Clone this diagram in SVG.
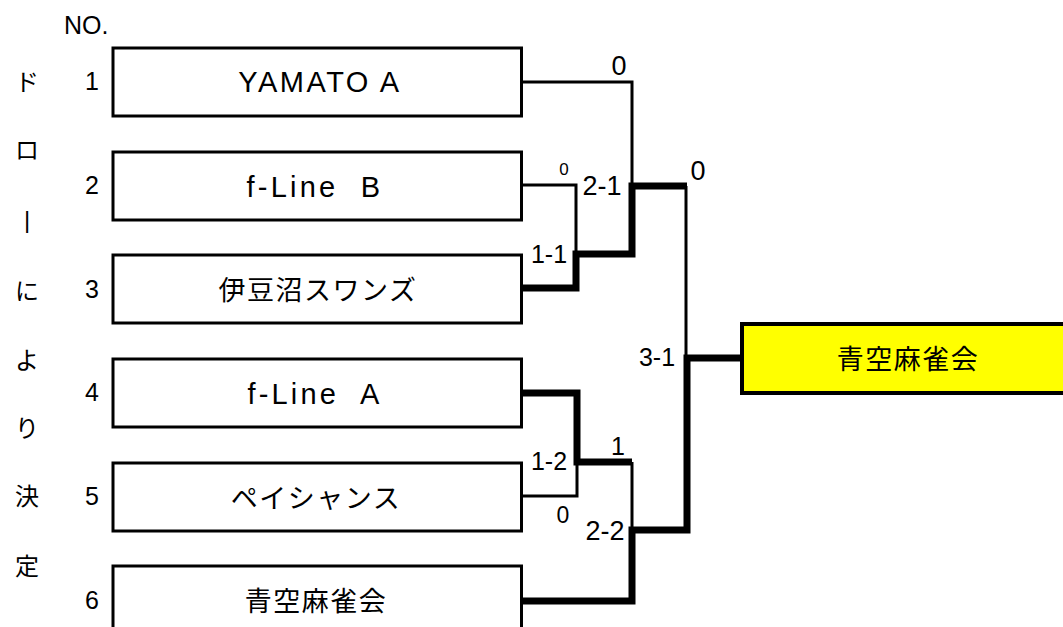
<svg xmlns="http://www.w3.org/2000/svg" width="1063" height="627" viewBox="0 0 1063 627">
<style>
.box{fill:#fff;stroke:#000;stroke-width:3}
.win{fill:#ffff00;stroke:#000;stroke-width:4}
.lat{font-family:"Liberation Sans",Arial,sans-serif;fill:#000}
.jp{font-family:"Noto Sans CJK JP","Liberation Sans",sans-serif;fill:#000}
.name{font-size:29px;letter-spacing:2.5px;text-anchor:middle}
.fl{letter-spacing:3.2px}
.jname{font-size:27px;letter-spacing:1.5px;text-anchor:middle}
.num{font-size:25px;text-anchor:middle}
.side{font-size:24px;text-anchor:middle}
.sc{text-anchor:middle}
.thin{fill:none;stroke:#000;stroke-width:3}
.thick{fill:none;stroke:#000;stroke-width:7;stroke-linejoin:miter}
</style>
<rect width="1063" height="627" fill="#fff"/>
<g id="header">
<text class="lat" x="64" y="34" font-size="25">NO.</text>
</g>
<g id="side-label">
<text class="jp side" x="27" y="91">ド</text>
<text class="jp side" x="27" y="159">ロ</text>
<text class="lat side" x="27" y="228">|</text>
<text class="jp side" x="27" y="300">に</text>
<text class="jp side" x="27" y="369">よ</text>
<text class="jp side" x="27" y="437">り</text>
<text class="jp side" x="27" y="505">決</text>
<text class="jp side" x="27" y="575">定</text>
</g>
<g id="numbers">
<text class="lat num" x="92" y="90">1</text>
<text class="lat num" x="92" y="194">2</text>
<text class="lat num" x="92" y="298">3</text>
<text class="lat num" x="92" y="401">4</text>
<text class="lat num" x="92" y="505">5</text>
<text class="lat num" x="92" y="609">6</text>
</g>
<g id="team1"><rect class="box" x="113" y="48" width="408.5" height="68"/><text class="lat name" x="320" y="92">YAMATO A</text></g>
<g id="team2"><rect class="box" x="113" y="152" width="408.5" height="68"/><text class="lat name fl" x="315" y="197" xml:space="preserve">f-Line  B</text></g>
<g id="team3"><rect class="box" x="113" y="255" width="408.5" height="68"/><text class="jp jname" x="318" y="300">伊豆沼スワンズ</text></g>
<g id="team4"><rect class="box" x="113" y="359" width="408.5" height="68"/><text class="lat name fl" x="315" y="404" xml:space="preserve">f-Line  A</text></g>
<g id="team5"><rect class="box" x="113" y="463" width="408.5" height="68"/><text class="jp jname" x="316" y="508">ペイシャンス</text></g>
<g id="team6"><rect class="box" x="113" y="566" width="408.5" height="70"/><text class="jp jname" x="316" y="611">青空麻雀会</text></g>
<g id="champion"><rect class="win" x="742" y="324" width="330" height="69"/><text class="jp jname" x="908" y="369">青空麻雀会</text></g>
<g id="connectors">
<polyline class="thin" points="522,82 632,82 632,186"/>
<polyline class="thin" points="522,185 576,185 576,254"/>
<polyline class="thin" points="522,496 577,496 577,462"/>
<polyline class="thin" points="632,462 632,530"/>
<polyline class="thin" points="686,186 686,358"/>
<polyline class="thick" points="522,288 576,288 576,254 632,254 632,186 687,186"/>
<polyline class="thick" points="522,393 577,393 577,462 632,462"/>
<polyline class="thick" points="522,601 632,601 632,530 687,530 687,358 742,358"/>
</g>
<g id="scores">
<text class="lat sc" x="619" y="75" font-size="27">0</text>
<text class="lat sc" x="564" y="175" font-size="17">0</text>
<text class="lat sc" x="602" y="195" font-size="27">2-1</text>
<text class="lat sc" x="698" y="180" font-size="27">0</text>
<text class="lat sc" x="549" y="263" font-size="25">1-1</text>
<text class="lat sc" x="657" y="366" font-size="25">3-1</text>
<text class="lat sc" x="618" y="455" font-size="25">1</text>
<text class="lat sc" x="549" y="470" font-size="25">1-2</text>
<text class="lat sc" x="563" y="523" font-size="23">0</text>
<text class="lat sc" x="605" y="540" font-size="27">2-2</text>
</g>
</svg>
